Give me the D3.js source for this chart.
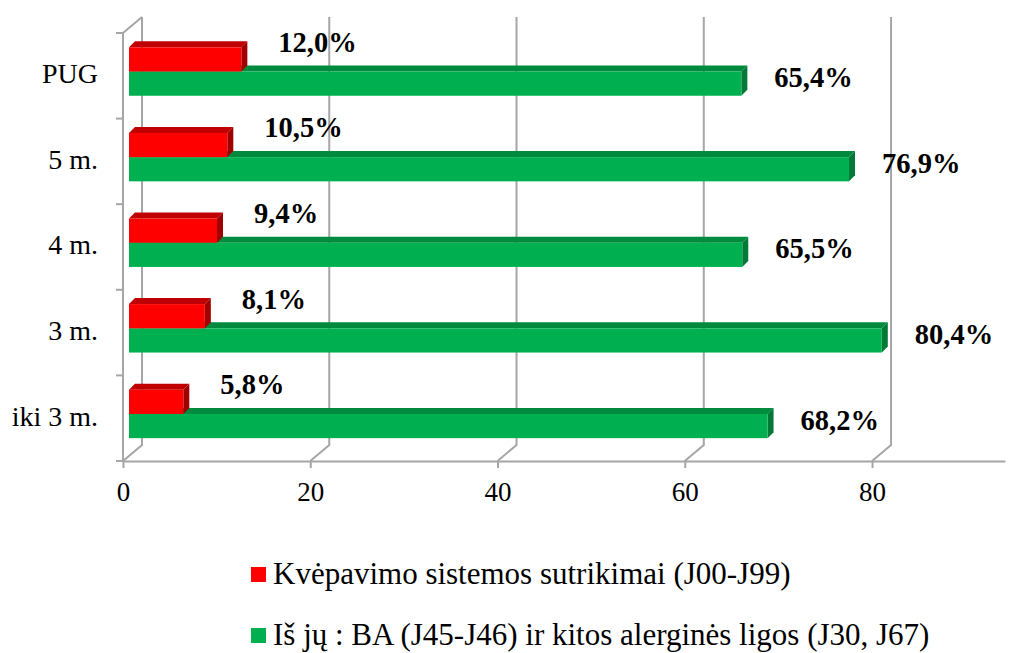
<!DOCTYPE html>
<html lang="lt">
	<head>
		<meta charset="utf-8">
		<title>Kvėpavimo sistemos sutrikimai</title>
		<script src="https://d3js.org/d3.v7.min.js"></script>
		<style type="text/css">
			body { margin: 0; background: #fff; }
			svg { display: block; font-family: "Liberation Serif", "Times New Roman", serif; }
		</style>
	</head>
	<body>
		<script type="text/javascript">
			//Data
			var categories = ["PUG", "5 m.", "4 m.", "3 m.", "iki 3 m."];
			var respiratory = [12.0, 10.5, 9.4, 8.1, 5.8];
			var allergic = [65.4, 76.9, 65.5, 80.4, 68.2];
			var tickValues = [0, 20, 40, 60, 80];
			var seriesNames = ["Kvėpavimo sistemos sutrikimai (J00-J99)", "Iš jų : BA (J45-J46) ir kitos alerginės ligos (J30, J67)"];

			//Width and height
			var w = 1012;
			var h = 653;

			//3D offsets (back wall relative to front)
			var wallDx = 19, wallDy = -16;
			var barShift = 6, depth = 6;

			var svg = d3.select("body")
				.append("svg")
				.attr("width", w)
				.attr("height", h);

			//Front axis scale
			var x = d3.scaleLinear()
				.domain([0, 94.2])
				.range([123, 1005]);

			var y = d3.scaleBand()
				.domain(categories)
				.range([33, 461]);

			var grid = "#a6a6a6";

			//Back wall gridlines with floor diagonals
			var g = svg.append("g");
			g.selectAll("path.grid")
				.data(tickValues)
				.enter().append("path")
				.attr("class", "grid")
				.attr("fill", "none")
				.attr("stroke", grid)
				.attr("stroke-width", 2)
				.attr("d", function(d) {
					var xf = x(d), yb = y.range()[1];
					return "M" + xf + "," + yb + "L" + (xf + wallDx) + "," + (yb + wallDy) +
						"L" + (xf + wallDx) + "," + (y.range()[0] + wallDy);
				});

			//Left side wall
			g.append("path")
				.attr("fill", "none")
				.attr("stroke", grid)
				.attr("stroke-width", 2)
				.attr("d", "M" + x(0) + "," + y.range()[1] + "L" + x(0) + "," + y.range()[0] +
					"L" + (x(0) + wallDx) + "," + (y.range()[0] + wallDy));

			//Category ticks
			g.selectAll("line.ctick")
				.data(categories.concat([null]))
				.enter().append("line")
				.attr("stroke", grid)
				.attr("stroke-width", 2)
				.attr("x1", x(0) - 7)
				.attr("x2", x(0))
				.attr("y1", function(d) { return d === null ? y.range()[1] : y(d); })
				.attr("y2", function(d) { return d === null ? y.range()[1] : y(d); });

			//Category labels
			g.selectAll("text.cat")
				.data(categories)
				.enter().append("text")
				.attr("x", 98)
				.attr("y", function(d) { return y(d) + y.bandwidth() / 2 + 1; })
				.attr("text-anchor", "end")
				.attr("dominant-baseline", "middle")
				.attr("font-size", 28)
				.attr("fill", "#000")
				.text(function(d) { return d; });

			//Bottom axis
			var axis = svg.append("g")
				.attr("transform", "translate(0," + y.range()[1] + ")")
				.call(d3.axisBottom(x)
					.tickValues(tickValues)
					.tickSize(7)
					.tickSizeOuter(0)
					.tickPadding(14));
			axis.select(".domain").attr("stroke", grid).attr("stroke-width", 2);
			axis.selectAll(".tick line").attr("stroke", grid).attr("stroke-width", 2);
			axis.selectAll(".tick text")
				.attr("font-family", "Liberation Serif, serif")
				.attr("font-size", 27)
				.attr("fill", "#000");

			//3D bar drawing
			function bar3d(sel, x0, x1, yTop, hgt, front, top, side) {
				sel.append("path")
					.attr("fill", top)
					.attr("d", "M" + x0 + "," + yTop + "L" + (x0 + depth) + "," + (yTop - depth) +
						"L" + (x1 + depth) + "," + (yTop - depth) + "L" + x1 + "," + yTop + "Z");
				sel.append("path")
					.attr("fill", side)
					.attr("d", "M" + x1 + "," + yTop + "L" + (x1 + depth) + "," + (yTop - depth) +
						"L" + (x1 + depth) + "," + (yTop - depth + hgt) + "L" + x1 + "," + (yTop + hgt) + "Z");
				sel.append("rect")
					.attr("x", x0)
					.attr("y", yTop)
					.attr("width", x1 - x0)
					.attr("height", hgt)
					.attr("fill", front);
			}

			var bw = y.bandwidth();
			var barH = bw * 0.283;
			var redOff = bw * 0.167;

			var bars = svg.append("g");
			categories.forEach(function(c, i) {
				var b0 = x(0) + barShift;
				var yRed = y(c) + redOff;
				var yGreen = yRed + barH;
				// green first so red sits in front of its top face
				bar3d(bars, b0, x(allergic[i]) + barShift, yGreen, barH, "#00b050", "#008a3e", "#007a36");
				bar3d(bars, b0, x(respiratory[i]) + barShift, yRed, barH, "#ff0000", "#c00000", "#a00000");

				bars.append("text")
					.attr("x", x(respiratory[i]) + barShift + depth + 31)
					.attr("y", yRed - 2)
					.attr("dominant-baseline", "middle")
					.attr("font-size", 28.5)
					.attr("font-weight", "bold")
					.attr("fill", "#000")
					.text(respiratory[i].toFixed(1).replace(".", ",") + "%");

				bars.append("text")
					.attr("x", x(allergic[i]) + barShift + depth + 27)
					.attr("y", yGreen + barH / 2 - 3)
					.attr("dominant-baseline", "middle")
					.attr("font-size", 28.5)
					.attr("font-weight", "bold")
					.attr("fill", "#000")
					.text(allergic[i].toFixed(1).replace(".", ",") + "%");
			});

			//Legend
			var legendColors = ["#ff0000", "#00b050"];
			var legend = svg.append("g");
			var items = legend.selectAll("g")
				.data(seriesNames)
				.enter().append("g")
				.attr("transform", function(d, i) { return "translate(251," + (567 + i * 61) + ")"; });
			items.append("rect")
				.attr("width", 15)
				.attr("height", 15)
				.attr("fill", function(d, i) { return legendColors[i]; });
			items.append("text")
				.attr("x", 22)
				.attr("y", 17)
				.attr("font-size", 31)
				.attr("fill", "#000")
				.text(function(d) { return d; });
		</script>
	</body>
</html>
